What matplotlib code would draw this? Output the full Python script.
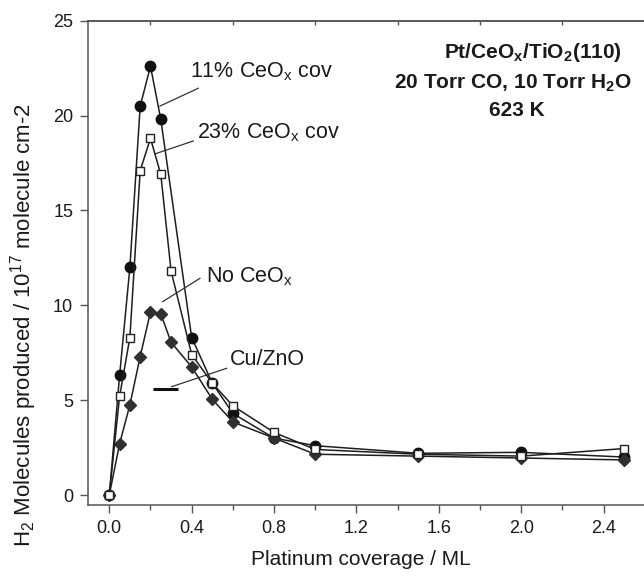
import matplotlib
matplotlib.use("Agg")
import matplotlib.pyplot as plt

plt.rcParams['font.family'] = ['Liberation Sans', 'DejaVu Sans']
plt.rcParams['mathtext.fontset'] = 'custom'
plt.rcParams['mathtext.rm'] = 'Liberation Sans'
plt.rcParams['mathtext.bf'] = 'Liberation Sans:bold'

# Data
x_ceox11 = [0.0, 0.05, 0.1, 0.15, 0.2, 0.25, 0.4, 0.5, 0.6, 0.8, 1.0, 1.5, 2.0, 2.5]
y_ceox11 = [0.0, 6.3, 12.0, 20.5, 22.6, 19.8, 8.3, 5.9, 4.3, 3.0, 2.6, 2.2, 2.25, 2.0]

x_ceox23 = [0.0, 0.05, 0.1, 0.15, 0.2, 0.25, 0.3, 0.4, 0.5, 0.6, 0.8, 1.0, 1.5, 2.0, 2.5]
y_ceox23 = [0.0, 5.2, 8.3, 17.1, 18.8, 16.9, 11.8, 7.4, 5.9, 4.7, 3.3, 2.4, 2.15, 2.05, 2.45]

x_noceox = [0.0, 0.05, 0.1, 0.15, 0.2, 0.25, 0.3, 0.4, 0.5, 0.6, 0.8, 1.0, 1.5, 2.0, 2.5]
y_noceox = [0.0, 2.7, 4.75, 7.3, 9.65, 9.55, 8.05, 6.75, 5.05, 3.85, 3.0, 2.15, 2.05, 1.95, 1.85]

cu_zno_x = [0.21, 0.335]
cu_zno_y = [5.6, 5.6]

x_ticks = [0.0, 0.4, 0.8, 1.2, 1.6, 2.0, 2.4]
x_tick_labels = ['0.0', '0.4', '0.8', '1.2', '1.6', '2.0', '2.4']
y_ticks = [0, 5, 10, 15, 20, 25]

fig = plt.figure(figsize=(6.44, 5.78), dpi=100)
ax = fig.add_axes([0.1374, 0.1263, 0.8626, 0.8379])

line_c = '#1e1e1e'
ax.plot(x_noceox, y_noceox, color=line_c, lw=1.1, marker='D', ms=6.5,
        mfc='#303030', mec='#303030', zorder=3)
ax.plot(x_ceox23, y_ceox23, color=line_c, lw=1.1, marker='s', ms=6.2,
        mfc='white', mec='#222222', mew=1.0, zorder=4)
ax.plot(x_ceox11, y_ceox11, color=line_c, lw=1.1, marker='o', ms=7.5,
        mfc='#111111', mec='#111111', zorder=2)
ax.plot(cu_zno_x, cu_zno_y, color='#111111', lw=2.2, solid_capstyle='butt', zorder=3)

ax.set_xlim(-0.101, 2.596)
ax.set_ylim(-0.526, 25)

ax.set_xticks(x_ticks)
ax.set_xticklabels(x_tick_labels)
ax.set_xticks([0.2, 0.6, 1.0, 1.4, 1.8, 2.2], minor=True)
ax.set_yticks(y_ticks)

spine_c = '#555555'
for s in ['left', 'bottom', 'top']:
    ax.spines[s].set_color(spine_c)
    ax.spines[s].set_linewidth(1.1)
ax.spines['right'].set_visible(False)

ax.tick_params(axis='both', which='major', direction='out', length=6, width=1.0,
               color=spine_c, labelsize=13, labelcolor='#1a1a1a', pad=5)
ax.tick_params(axis='x', which='minor', direction='out', length=3.5, width=1.0, color=spine_c)
ax.tick_params(axis='x', which='both', top=False)

sec = ax.secondary_xaxis('top')
sec.set_xticks([0.2, 0.6, 1.0, 1.4, 1.8, 2.2])
sec.set_xticklabels([])
sec.tick_params(direction='in', length=3, width=1.0, color=spine_c)
sec.spines['top'].set_color(spine_c)
sec.spines['top'].set_linewidth(1.1)

fig.text(0.56, 0.032, 'Platinum coverage / ML', fontsize=15, ha='center', va='center',
         color='#1a1a1a')
fig.text(0.036, 0.437, r'H$_2$ Molecules produced / 10$^{17}$ molecule cm-2', fontsize=16,
         rotation=90, ha='center', va='center', color='#1a1a1a')

ann_kw = dict(fontsize=15.5, color='#1a1a1a', va='center', ha='left')
lc = '#333333'
ax.text(0.392, 22.31, r'11% CeO$_\mathrm{x}$ cov', **ann_kw)
ax.plot([0.432, 0.246], [21.44, 20.5], color=lc, lw=0.9)
ax.text(0.424, 19.08, r'23% CeO$_\mathrm{x}$ cov', **ann_kw)
ax.plot([0.408, 0.222], [18.66, 17.98], color=lc, lw=0.9)
ax.text(0.47, 11.51, r'No CeO$_\mathrm{x}$', **ann_kw)
ax.plot([0.44, 0.259], [11.42, 10.19], color=lc, lw=0.9)
ax.text(0.586, 7.12, 'Cu/ZnO', **ann_kw)
ax.plot([0.57, 0.303], [6.68, 5.71], color=lc, lw=0.9)

bold_kw = dict(fontsize=15, fontweight='bold', color='#1a1a1a', ha='center', va='center')
fig.text(533 / 644, 1 - 53 / 578, r'Pt/CeO$_\mathbf{x}$/TiO$_\mathbf{2}$(110)', **bold_kw)
fig.text(513 / 644, 1 - 83 / 578, r'20 Torr CO, 10 Torr H$_\mathbf{2}$O', **bold_kw)
fig.text(517 / 644, 1 - 110 / 578, '623 K', **bold_kw)

fig.savefig('out.png', dpi=100)
